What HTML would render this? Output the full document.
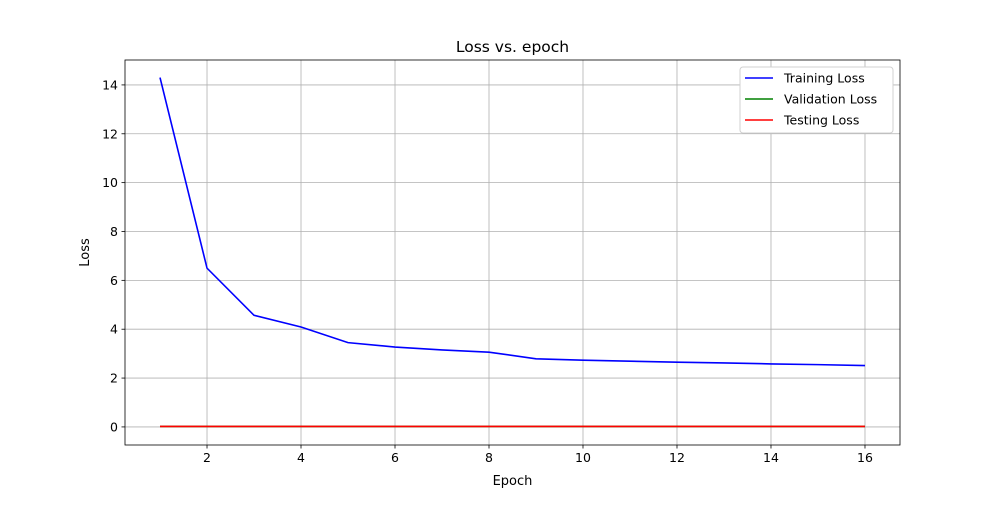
<!DOCTYPE html>
<html><head><meta charset="utf-8"><style>
body{margin:0;background:#fff;font-family:"Liberation Sans","DejaVu Sans",sans-serif;}
</style></head><body>
<svg id="chart" width="1000" height="500" xmlns="http://www.w3.org/2000/svg" font-family="DejaVu Sans, Liberation Sans, sans-serif"></svg>
<script>
const epochs=[1,2,3,4,5,6,7,8,9,10,11,12,13,14,15,16];
const trainLoss=[14.3,6.5,4.57,4.09,3.45,3.27,3.15,3.06,2.79,2.73,2.69,2.65,2.62,2.58,2.55,2.51];
const valLoss=[0.02,0.02,0.02,0.02,0.02,0.02,0.02,0.02,0.02,0.02,0.02,0.02,0.02,0.02,0.02,0.02];
const testLoss=[0.02,0.02,0.02,0.02,0.02,0.02,0.02,0.02,0.02,0.02,0.02,0.02,0.02,0.02,0.02,0.02];
const xTicks=[2,4,6,8,10,12,14,16];
const yTicks=[0,2,4,6,8,10,12,14];
const L=125,R=900,T=60,B=445;
const xMin=0.255,xMax=16.745,yMin=-0.74,yMax=15.02;
const sx=v=>L+(v-xMin)/(xMax-xMin)*(R-L);
const sy=v=>B-(v-yMin)/(yMax-yMin)*(B-T);
const svg=document.getElementById('chart');
const NS='http://www.w3.org/2000/svg';
function mk(tag,attrs,parent){const e=document.createElementNS(NS,tag);for(const k in attrs)e.setAttribute(k,attrs[k]);(parent||svg).appendChild(e);return e;}
// grid
xTicks.forEach(t=>{const g=mk('line',{x1:sx(t),x2:sx(t),y1:T,y2:B,stroke:'#b0b0b0','stroke-width':0.8});

});
yTicks.forEach(t=>{const g=mk('line',{x1:L,x2:R,y1:sy(t),y2:sy(t),stroke:'#b0b0b0','stroke-width':0.8});

});
// ticks and labels
xTicks.forEach(t=>{mk('line',{x1:sx(t),x2:sx(t),y1:B,y2:B+3.5,stroke:'#000','stroke-width':0.8});
const tx=mk('text',{x:sx(t),y:B+17,'text-anchor':'middle','font-size':12.5,fill:'#000'});tx.textContent=t;

});
yTicks.forEach(t=>{mk('line',{x1:L-3.5,x2:L,y1:sy(t),y2:sy(t),stroke:'#000','stroke-width':0.8});
const tx=mk('text',{x:L-7,y:sy(t)+4.5,'text-anchor':'end','font-size':12.5,fill:'#000'});tx.textContent=t;

});
// series
function line(vals,color,name){const p=mk('polyline',{points:epochs.map((e,i)=>sx(e)+','+sy(vals[i])).join(' '),fill:'none',stroke:color,'stroke-width':1.6});

}
line(trainLoss,'#0000ff','training-loss-line');
line(valLoss,'#008000','validation-loss-line');
line(testLoss,'#ff0000','testing-loss-line');
// frame
const fr=mk('rect',{x:L,y:T,width:R-L,height:B-T,fill:'none',stroke:'#000','stroke-width':0.8});


// titles
const ti=mk('text',{x:(L+R)/2,y:52,'text-anchor':'middle','font-size':15.5});ti.textContent='Loss vs. epoch';


const xt=mk('text',{x:(L+R)/2,y:485,'text-anchor':'middle','font-size':13});xt.textContent='Epoch';


const yt=mk('text',{x:89,y:(T+B)/2,'text-anchor':'middle','font-size':13,transform:'rotate(-90 89 '+((T+B)/2)+')'});yt.textContent='Loss';


// legend
const lg=mk('rect',{x:740,y:67,width:153,height:66,rx:3,fill:'#fff',stroke:'#d0d0d0','stroke-width':1});


[['Training Loss','#0000ff'],['Validation Loss','#008000'],['Testing Loss','#ff0000']].forEach((d,i)=>{
const y=78+i*21;
mk('line',{x1:745,x2:773,y1:y,y2:y,stroke:d[1],'stroke-width':1.6});
const t=mk('text',{x:784,y:y+4.5,'font-size':12.5});t.textContent=d[0];


});
</script>
</body></html>
